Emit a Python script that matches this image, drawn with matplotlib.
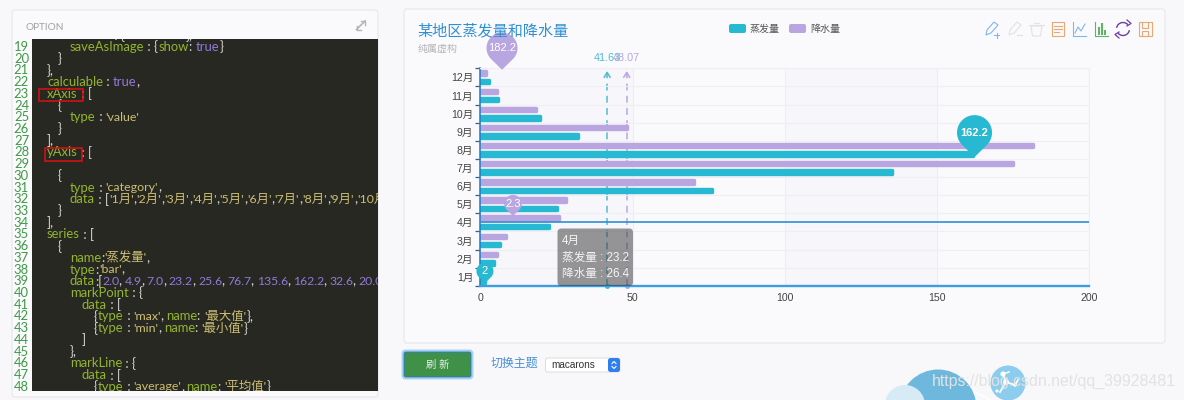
import re
import numpy as np
import matplotlib
matplotlib.use('Agg')
import matplotlib.pyplot as plt
from matplotlib.patches import Rectangle, FancyBboxPatch, Circle, Polygon, Arc
from matplotlib.transforms import IdentityTransform, Affine2D

CJK = ['Liberation Sans', 'Noto Sans CJK SC', 'DejaVu Sans']
plt.rcParams['font.family'] = CJK

# ---- chart data
months = ['1月', '2月', '3月', '4月', '5月', '6月', '7月', '8月', '9月', '10月', '11月', '12月']
evaporation = [2.0, 4.9, 7.0, 23.2, 25.6, 76.7, 135.6, 162.2, 32.6, 20.0, 6.4, 3.3]
rainfall = [2.6, 5.9, 9.0, 26.4, 28.7, 70.7, 175.6, 182.2, 48.7, 18.8, 6.0, 2.3]
avg_evap = 41.63
avg_rain = 48.07
x_ticks = [0, 50, 100, 150, 200]
series_names = ['蒸发量', '降水量']
# mark pins as caught mid-animation: label, tip x, tip y (data units), radius, colour key
pin_labels = ['182.2', '162.2', '2.3', '2']
pin_x = [7.1, 162.3, 10.7, 1.5]
pin_y = [11.42, 6.6, 3.35, -0.35]
pin_r = [15.5, 17.5, 8.8, 8.5]
pin_series = [1, 0, 1, 0]
code_start = 18
code_lines = [
    (70, "restore : {show: true},"),
    (70, "saveAsImage : {show: true}"), (58, "}"), (47, "},"), (47, "calculable : true,"),
    (47, "xAxis : ["), (58, "{"), (70, "type : 'value'"), (58, "}"), (47, "],"),
    (47, "yAxis : ["), (47, ""), (58, "{"), (70, "type : 'category',"),
    (70, "data : ['1月','2月','3月','4月','5月','6月','7月','8月','9月','10月','11月'"),
    (58, "}"), (47, "],"), (47, "series : ["), (58, "{"), (70, "name:'蒸发量',"), (70, "type:'bar',"),
    (70, "data:[2.0, 4.9, 7.0, 23.2, 25.6, 76.7, 135.6, 162.2, 32.6, 20.0, 6.4"),
    (70, "markPoint : {"), (82, "data : ["), (94, "{type : 'max', name: '最大值'},"),
    (94, "{type : 'min', name: '最小值'}"), (82, "]"), (70, "},"), (70, "markLine : {"),
    (82, "data : ["), (94, "{type : 'average', name: '平均值'}"),
]

# ---- colours
PAGE = '#f8f8fa'
CARD = '#fafafc'
TEAL = '#27b9d1'
PURPLE = '#b9a6e0'
TITLE = '#2f8fd3'
C_KEY, C_STR, C_NUM, C_PUN = '#93b52d', '#cdbf72', '#9278dc', '#d8d8d2'

W, H = 1184, 400
fig = plt.figure(figsize=(W / 100, H / 100), dpi=100, facecolor=PAGE)

bg = fig.add_axes([0, 0, 1, 1], zorder=0)
bg.set_xlim(0, W); bg.set_ylim(H, 0); bg.axis('off')
top = fig.add_axes([0, 0, 1, 1], zorder=5)
top.set_xlim(0, W); top.set_ylim(H, 0); top.axis('off'); top.patch.set_alpha(0)


def card(a, x0, y0, x1, y1, fc=CARD, ec='#e9e9ec', lw=0.9, r=3, z=1, **kw):
    p = FancyBboxPatch((x0, y0), x1 - x0, y1 - y0, boxstyle=f'round,pad=0,rounding_size={r}',
                       fc=fc, ec=ec, lw=lw, zorder=z, **kw)
    a.add_patch(p)
    return p


# ---- left panel
card(bg, 12, 10, 378, 397)
bg.text(25, 27, 'OPTION', color='#a2a2a2', fontsize=7.2, va='center', family=['Lato'] + CJK)
bg.plot([356.5, 365], [29.5, 21], color='#b4b4b4', lw=1.2, zorder=2)
bg.plot([361, 365, 365], [21, 21, 25], color='#b4b4b4', lw=1.0, zorder=2)
bg.plot([356.5, 356.5, 360.5], [25.5, 30, 30], color='#b4b4b4', lw=1.0, zorder=2)
editor = Rectangle((32, 39), 346, 352, fc='#272822', ec='none', zorder=2)
bg.add_patch(editor)

CODE_FONT = ['Lato', 'Noto Sans CJK SC', 'DejaVu Sans']
CODE_SIZE = 9.4
renderer = fig.canvas.get_renderer()


def adv(s, size):
    probe = bg.text(0, 0, s + '.', fontsize=size, family=CODE_FONT)
    ref = bg.text(0, 0, '.', fontsize=size, family=CODE_FONT)
    w = probe.get_window_extent(renderer).width - ref.get_window_extent(renderer).width
    probe.remove(); ref.remove()
    return w


token = re.compile(r"'[^']*'|true|\d+\.\d+|[A-Za-z]+|[^'A-Za-z\d]+|\d+")
for i, (x, line) in enumerate(code_lines):
    y = 35.2 + i * 11.72
    if i > 0:
        bg.text(29, y, str(code_start + i), color='#3f9a46', fontsize=9.4, ha='right', va='center',
                family=CODE_FONT, zorder=3)
    cx = x
    for tok in token.findall(line):
        tight = 1.0
        size = CODE_SIZE
        if tok.startswith("'"):
            col = C_STR
            size = CODE_SIZE * 0.95
        elif tok == 'true':
            col = C_NUM
        elif re.fullmatch(r'[\d.]+', tok):
            col = C_NUM
            size = CODE_SIZE * 0.94
        elif tok[0].isalpha():
            col = C_KEY
        else:
            col = C_PUN
            if tok == ', ':
                tight = 0.8
        t = bg.text(cx, y, tok, color=col, fontsize=size, va='center', family=CODE_FONT, zorder=3)
        t.set_clip_path(editor)
        t.set_clip_on(True)
        cx += adv(tok, size) * tight
for box in [(38.5, 88.5, 44, 12.5), (44.5, 147.5, 37, 13)]:
    bg.add_patch(Rectangle(box[:2], box[2], box[3], fc='none', ec='#e01010', lw=1.1, zorder=4))

# ---- right panel
card(bg, 404, 9, 1165, 343)
top.text(417.5, 30.5, '某地区蒸发量和降水量', color=TITLE, fontsize=10.9, va='center', zorder=3)
bg.text(418, 48.5, '纯属虚构', color='#b4b4b4', fontsize=7.2, va='center', zorder=3)
for x, col, name in [(729, TEAL, series_names[0]), (789, PURPLE, series_names[1])]:
    card(bg, x, 24, x + 17, 33, fc=col, ec='none', lw=0, r=2, z=3)
    bg.text(x + 21, 28.5, name, color='#555555', fontsize=7.2, va='center', zorder=3)

# toolbox icons
BL, GY, OR, GR, PU = '#7db8ee', '#e2e2e2', '#e8a873', '#5cb860', '#6a3fa0'
ICON = 0.8


def pencil(x, col, sign):
    bg.add_patch(Polygon([[x - 6, 35], [x - 5, 30], [x + 2, 22], [x + 6, 25], [x - 1, 33]], closed=True,
                         fc='none', ec=col, lw=ICON, zorder=3))
    bg.plot([x + 2, x + 7], [35, 35], color=col, lw=ICON, zorder=3)
    if sign == '+':
        bg.plot([x + 4.5, x + 4.5], [32.5, 37.5], color=col, lw=ICON, zorder=3)


pencil(992, BL, '+')
pencil(1015, GY, '-')
bg.add_patch(Polygon([[1031, 26], [1042, 26], [1040.5, 36], [1032.5, 36]], closed=True, fc='none', ec=GY, lw=ICON, zorder=3))
bg.plot([1029, 1044], [25, 25], color=GY, lw=ICON, zorder=3)
bg.plot([1034, 1039], [22.5, 22.5], color=GY, lw=ICON, zorder=3)
bg.add_patch(Rectangle((1052, 22), 12, 14, fc='none', ec=OR, lw=ICON, zorder=3))
for yy, xe in [(26, 1062), (29, 1062), (32, 1059)]:
    bg.plot([1054, xe], [yy, yy], color=OR, lw=ICON, zorder=3)
bg.plot([1073, 1073, 1086], [22, 36, 36], color=BL, lw=ICON, zorder=3)
bg.plot([1075, 1078, 1081, 1085], [33, 27, 31, 24], color=BL, lw=ICON, zorder=3)
bg.plot([1095, 1095, 1108], [22, 36, 36], color=GR, lw=ICON, zorder=3)
for xb, yb in [(1098, 27), (1101, 23), (1104, 30)]:
    bg.add_patch(Rectangle((xb, yb), 2, 35 - yb, fc=GR, ec='none', zorder=3))
bg.add_patch(Arc((1123, 29), 13, 13, theta1=190, theta2=320, ec=PU, lw=1.0, zorder=3))
bg.add_patch(Arc((1123, 29), 13, 13, theta1=10, theta2=140, ec=PU, lw=1.0, zorder=3))
bg.plot([1127, 1131, 1127], [20, 23.5, 26], color=PU, lw=0.9, zorder=3)
bg.plot([1119, 1115, 1119], [32, 34.5, 38], color=PU, lw=0.9, zorder=3)
bg.add_patch(Rectangle((1138.5, 22), 13, 14, fc='none', ec=OR, lw=ICON, zorder=3))
bg.plot([1142, 1142, 1148, 1148], [22, 28, 28, 22], color=OR, lw=ICON, zorder=3)
bg.add_patch(Rectangle((1142, 31), 6, 5, fc='none', ec=OR, lw=ICON, zorder=3))

# ---- bottom controls
card(bg, 402.5, 350.5, 472.5, 378.5, fc='none', ec='#a8d0f2', lw=1.4, r=3, z=2)
card(bg, 404, 352, 471, 377, fc='#3f9148', ec='#2e7fc0', lw=0.8, r=2, z=3)
bg.text(437.5, 364.5, '刷 新', color='#e8f2e8', fontsize=7.4, ha='center', va='center', zorder=4)
bg.text(491, 364, '切换主题', color='#4a8fd6', fontsize=8.6, va='center', zorder=3)
card(bg, 545.5, 358, 620, 372, fc='white', ec='#dddddd', lw=0.7, r=2.5, z=3)
card(bg, 608, 358, 620, 372, fc='#2f80ee', ec='none', lw=0, r=2.5, z=4)
bg.text(551.5, 365, 'macarons', color='#333333', fontsize=7.2, va='center', zorder=5)
bg.plot([612, 614, 616], [363.5, 361.5, 363.5], color='white', lw=0.8, zorder=5)
bg.plot([612, 614, 616], [366.5, 368.5, 366.5], color='white', lw=0.8, zorder=5)

# ---- page decoration
bg.add_patch(Circle((938, 408), 38.5, fc='#6fb8dd', ec='none', zorder=1))
bg.add_patch(Circle((905, 405), 20, fc='#d6ebf6', ec='none', zorder=1.1))
bg.add_patch(Circle((1008, 383), 17.5, fc='#8ccdee', ec='none', zorder=1))
bg.plot([975, 990], [392, 400], color='white', lw=1, zorder=1.2)
bg.plot([1003, 1006, 1000], [374, 382, 392], color='white', lw=1.3, zorder=1.3)
bg.plot([1006, 1015, 1018], [382, 385, 380], color='white', lw=1.3, zorder=1.3)
bg.plot([1003, 1009], [374, 372], color='white', lw=1.1, zorder=1.3)
for px, py, pr in [(1003, 374, 2.6), (1006, 382, 3), (1015, 385, 1.8), (997, 391, 1.6)]:
    bg.add_patch(Circle((px, py), pr, fc='white', ec='none', zorder=1.4))
top.text(932, 381, 'https://blog.csdn.net/qq_39928481', color='#e2e2e2', fontsize=11.45, va='center',
         family='Liberation Sans')

# ---- chart
L, R, T, B = 480.4, 1089.3, 68.3, 285.8
ax = fig.add_axes([L / W, 1 - B / H, (R - L) / W, (B - T) / H], zorder=2)
ax.patch.set_alpha(0)
ax.set_xlim(0, 200)
ax.set_ylim(-0.5, 11.5)
pos = np.arange(len(months))
for a, b in zip(x_ticks[:-1:2], x_ticks[1::2]):
    ax.axvspan(a, b, fc='#8a70c0', alpha=0.025, lw=0, zorder=0)
ax.set_xticks(x_ticks)
ax.set_yticks(pos)
ax.set_yticklabels(months)
ax.set_yticks(np.arange(-0.5, 12, 1), minor=True)
ax.grid(True, axis='y', which='minor', color='#efeff1', lw=0.8, zorder=0.5)
ax.grid(True, axis='x', which='major', color='#efeff1', lw=0.8, zorder=0.5)
ax.tick_params(axis='y', which='major', length=0, pad=5.2, labelsize=7.6, labelcolor='#444444')
ax.tick_params(axis='y', which='minor', length=3.6, width=0.9, color='#35608c')
ax.tick_params(axis='x', which='major', length=0, pad=5.4, labelsize=7.6, labelcolor='#444444')
for s in ['top', 'right']:
    ax.spines[s].set_color('#efeff1')
    ax.spines[s].set_linewidth(0.8)
ax.spines['left'].set_color('#1f7cc4')
ax.spines['left'].set_linewidth(1.1)
ax.spines['bottom'].set_color('#38a0e2')
ax.spines['bottom'].set_linewidth(1.7)

# average lines lie under the bars
for val, col, lab in [(avg_evap, '#4fbcd2', avg_evap), (avg_rain, PURPLE, avg_rain)]:
    ax.plot([val, val], [-0.5, 11.1], color=col, lw=1.1, dashes=(4.5, 3.5), zorder=1)
    ax.annotate('', xy=(val, 11.5), xytext=(val, 10.95),
                arrowprops=dict(arrowstyle='->,head_width=0.22,head_length=0.35', color=col, lw=1.1), zorder=1)
    ax.plot([val], [-0.5], marker='o', ms=2.6, color=col, clip_on=False, zorder=1)
    ax.annotate(f'{lab:.2f}', xy=(val, 11.5), xytext=(0, 3.5), textcoords='offset points',
                ha='center', va='bottom', color=col, fontsize=7.8, annotation_clip=False)

# bars: rounded ends come from a thick round-joined outline
BAR_H_PX = 6.8
LW_PX = 3.4
unit = (B - T) / 12
shift = Affine2D().translate(-LW_PX / 2, 0)
for vals, off, col in [(evaporation, -4.2, TEAL), (rainfall, 4.2, PURPLE)]:
    bars = ax.barh(pos + off / unit, vals, height=(BAR_H_PX - LW_PX) / unit, color=col, ec=col,
                   lw=LW_PX * 0.72, zorder=2)
    for b in bars:
        b.set_joinstyle('round')
        b.set_transform(ax.transData + shift)

ax.axhline(months.index('4月'), color='#2e8fd4', lw=1.2, zorder=3)

# pins, placed by their tip in data units
SER = [TEAL, PURPLE]
fig.canvas.draw()
ang = np.radians(np.linspace(-45.6, 225.6, 60))
unit_pin = np.column_stack([np.cos(ang), np.sin(ang) + 1.4])
unit_pin = np.vstack([unit_pin, [0, 0]])
for lab, px, py, r, s in zip(pin_labels, pin_x, pin_y, pin_r, pin_series):
    tx, ty = ax.transData.transform((px, py))
    ax.add_patch(Polygon(unit_pin * r + [tx, ty], closed=True, fc=SER[s], ec='none',
                         transform=IdentityTransform(), clip_on=False, zorder=4))
    ax.text(tx, ty + 1.4 * r, lab, color='white', fontsize=8, ha='center', va='center',
            fontweight='bold' if r > 10 and s == 0 else 'normal',
            transform=IdentityTransform(), clip_on=False, zorder=5)

# tooltip
i4 = months.index('4月')
card(top, 557.5, 228.5, 633, 286, fc=(0.2, 0.2, 0.2, 0.5), ec='none', lw=0, r=4, z=6)
tip = [months[i4], f'{series_names[0]} : {evaporation[i4]}', f'{series_names[1]} : {rainfall[i4]}']
for yy, s in zip([241, 258, 274.5], tip):
    top.text(561.5, yy, s, color='#f4f4f4', fontsize=8.4, va='center', zorder=7)

fig.savefig('out.png', dpi=100, facecolor=PAGE)
